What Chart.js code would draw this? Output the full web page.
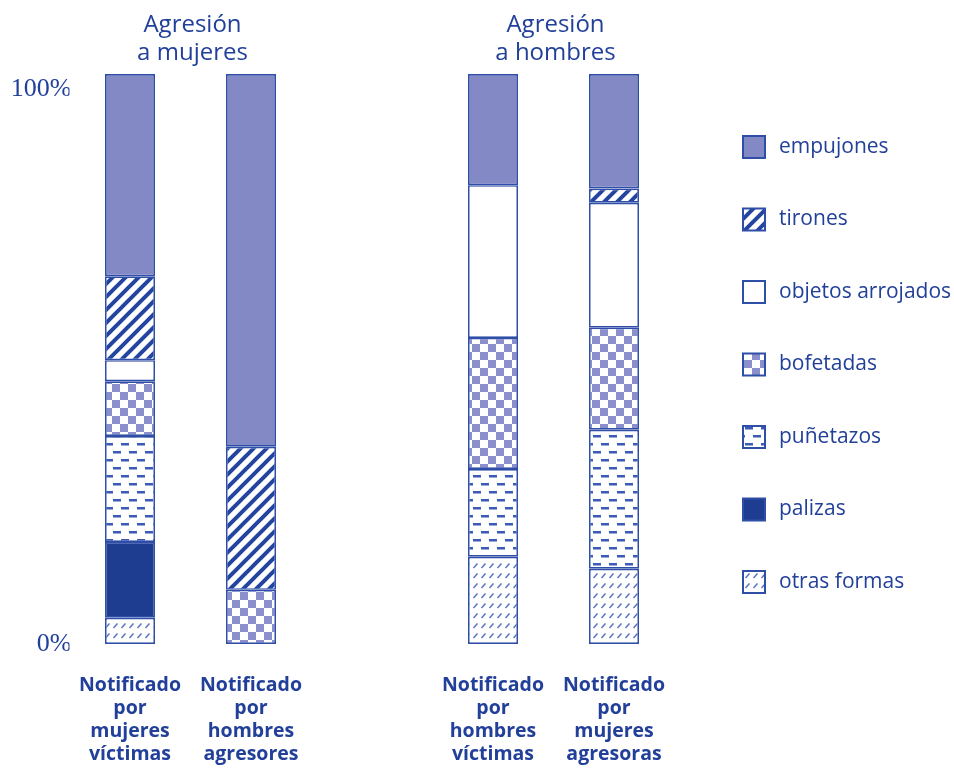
<!DOCTYPE html>
<html>
<head>
<meta charset="utf-8">
<script src="https://cdn.jsdelivr.net/npm/chart.js@4.4.1/dist/chart.umd.min.js"></script>
<style>
  html, body { margin: 0; padding: 0; background: #fff; }
  #wrap { width: 954px; height: 772px; position: relative; }
</style>
</head>
<body>
<div id="wrap"><canvas id="chart"></canvas></div>
<script>
// Categories (the empty one makes the gap between the two groups)
const categories = [
    ['Notificado', 'por', 'mujeres', 'víctimas'],
    ['Notificado', 'por', 'hombres', 'agresores'],
    '',
    ['Notificado', 'por', 'hombres', 'víctimas'],
    ['Notificado', 'por', 'mujeres', 'agresoras']
];
const groupTitles = [
    { lines: ['Agresión', 'a mujeres'], cats: [0, 1] },
    { lines: ['Agresión', 'a hombres'], cats: [3, 4] }
];

// Series, in % (stack order bottom -> top)
const otrasFormas = [4.6, null, null, 15.3, 13.2];
const palizas     = [13.3, null, null, null, null];
const punetazos   = [18.6, null, null, 15.4, 24.4];
const bofetadas   = [9.6, 9.5, null, 23.0, 17.9];
const objetos     = [3.7, null, null, 26.8, 21.9];
const tirones     = [14.7, 25.1, null, null, 2.5];
const empujones   = [35.5, 65.4, null, 19.5, 20.1];

const yTicks = [0, 100];

const blueText = '#22409a';
const edge = '#2f4ea8';

// Pattern helpers
function makeTile(w, h, draw) {
    const c = document.createElement('canvas');
    c.width = w;
    c.height = h;
    const g = c.getContext('2d');
    g.fillStyle = '#fff';
    g.fillRect(0, 0, w, h);
    draw(g);
    return document.getElementById('chart').getContext('2d').createPattern(c, 'repeat');
}

const stripePattern = makeTile(13, 13, g => {
    g.strokeStyle = '#23449f';
    g.lineWidth = 4;
    g.beginPath();
    for (let k = -1; k <= 1; k++) {
        g.moveTo(-2 + k * 13, 15);
        g.lineTo(15 + k * 13, -2);
    }
    g.stroke();
});

const checkerPattern = makeTile(16, 16, g => {
    g.fillStyle = '#8b8fcc';
    g.fillRect(0, 0, 8, 8);
    g.fillRect(8, 8, 8, 8);
});

const dashPattern = makeTile(16, 16, g => {
    g.fillStyle = '#3b5bb5';
    g.fillRect(1, 3, 8, 2.5);
    g.fillRect(9, 11, 8, 2.5);
    g.fillRect(-7, 11, 8, 2.5);
});

const slashPattern = makeTile(8, 10, g => {
    g.strokeStyle = '#5670c0';
    g.lineWidth = 1.4;
    g.beginPath();
    g.moveTo(1.5, 8);
    g.lineTo(5.5, 3.5);
    g.stroke();
});

function series(label, data, fill) {
    return {
        label: label,
        data: data,
        backgroundColor: fill,
        borderColor: edge,
        borderWidth: 1.7,
        borderSkipped: false,
        stack: 'one'
    };
}

// Legend drawn on the right, top to bottom
const sideLegend = {
    id: 'sideLegend',
    afterDraw(chart) {
        const ctx = chart.ctx;
        const items = chart.data.datasets.slice().reverse();
        ctx.save();
        items.forEach((ds, i) => {
            const y = 147 + i * 72.5;
            ctx.fillStyle = ds.backgroundColor;
            ctx.fillRect(743, y - 11, 22, 22);
            ctx.lineWidth = 2;
            ctx.strokeStyle = ds.borderColor;
            ctx.strokeRect(743, y - 11, 22, 22);
            ctx.fillStyle = blueText;
            ctx.font = '21px "Open Sans"';
            ctx.textAlign = 'left';
            ctx.textBaseline = 'middle';
            ctx.fillText(ds.label, 779, y);
        });
        ctx.restore();
    }
};

// Group titles over each pair of bars
const groupHeads = {
    id: 'groupHeads',
    afterDraw(chart) {
        const ctx = chart.ctx;
        const x = chart.scales.x;
        ctx.save();
        ctx.fillStyle = blueText;
        ctx.font = '24px "Open Sans"';
        ctx.textAlign = 'center';
        ctx.textBaseline = 'middle';
        groupTitles.forEach(gt => {
            const cx = (x.getPixelForValue(gt.cats[0]) + x.getPixelForValue(gt.cats[1])) / 2;
            gt.lines.forEach((line, i) => ctx.fillText(line, cx + 2, 25 + i * 28));
        });
        ctx.restore();
    }
};

new Chart(document.getElementById('chart'), {
    type: 'bar',
    data: {
        labels: categories,
        datasets: [
            series('otras formas', otrasFormas, slashPattern),
            series('palizas', palizas, '#1e3d91'),
            series('puñetazos', punetazos, dashPattern),
            series('bofetadas', bofetadas, checkerPattern),
            series('objetos arrojados', objetos, '#ffffff'),
            series('tirones', tirones, stripePattern),
            series('empujones', empujones, '#8289c4')
        ]
    },
    options: {
        responsive: true,
        maintainAspectRatio: false,
        animation: false,
        layout: {
            padding: { top: 74, right: 279.5, bottom: 0, left: 0 }
        },
        datasets: {
            bar: {
                categoryPercentage: 1,
                barPercentage: 50 / 121
            }
        },
        plugins: {
            legend: { display: false },
            tooltip: { enabled: false }
        },
        scales: {
            x: {
                stacked: true,
                grid: { display: false, drawTicks: false },
                border: { display: false },
                afterFit: scale => { scale.height = 128; },
                ticks: {
                    color: blueText,
                    padding: 30,
                    maxRotation: 0,
                    autoSkip: false,
                    font: { family: 'Open Sans', size: 19.5, weight: 'bold', lineHeight: '23px' }
                }
            },
            y: {
                stacked: true,
                min: 0,
                max: 100,
                grid: { display: false, drawTicks: false },
                border: { display: false },
                afterFit: scale => { scale.width = 69.5; },
                afterBuildTicks: scale => {
                    scale.ticks = yTicks.map(v => ({ value: v }));
                },
                ticks: {
                    color: blueText,
                    padding: -2,
                    font: { family: 'Liberation Serif', size: 26 },
                    callback: v => (v === 100 ? ['', '100%'] : v + '%')
                }
            }
        }
    },
    plugins: [sideLegend, groupHeads]
});
</script>
</body>
</html>
